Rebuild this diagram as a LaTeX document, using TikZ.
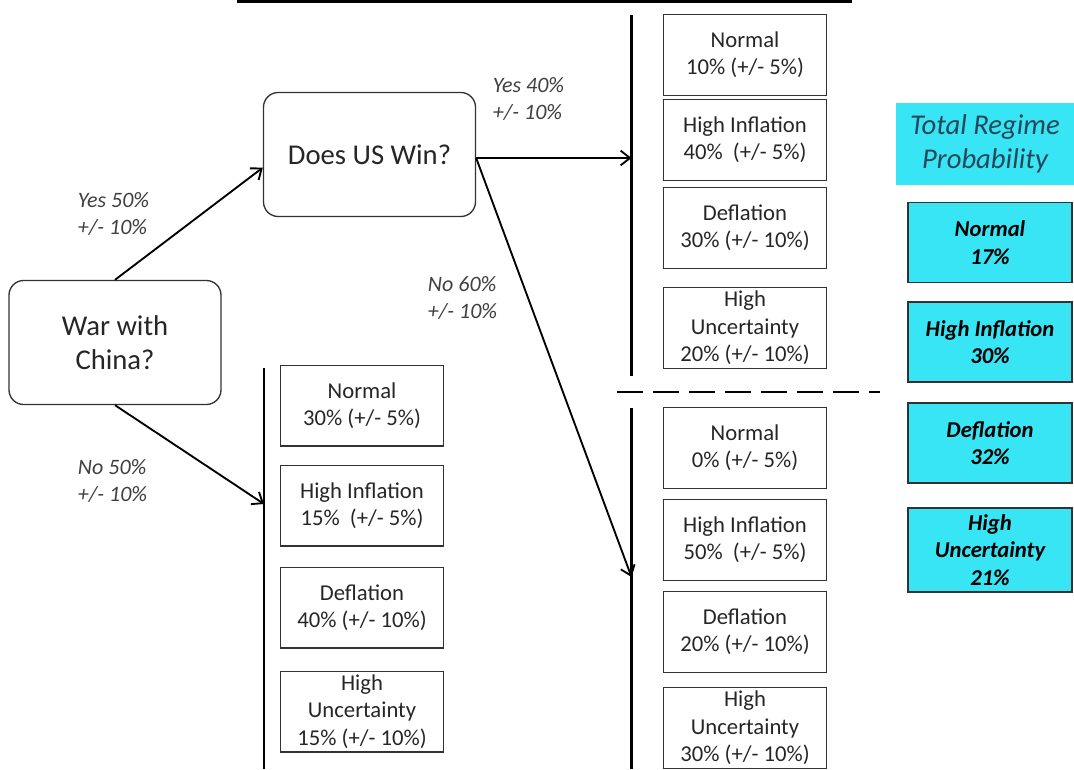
\documentclass[tikz,border=0pt]{standalone}
\usepackage{fontspec}
\setmainfont{Carlito}
\usetikzlibrary{arrows.meta}

\definecolor{regimecyan}{RGB}{55,229,244}
\definecolor{boxgrey}{RGB}{50,50,50}
\definecolor{headblue}{RGB}{40,70,90}

\begin{document}
\begin{tikzpicture}[x=0.75pt,y=-0.75pt,>={Straight Barb[length=7pt,width=11pt]},
                    line width=1.4pt,
    question/.style={draw=boxgrey,line width=1pt,rounded corners=11pt,
                     minimum width=159pt,minimum height=93pt,align=center,
                     font=\fontsize{21.5}{25}\selectfont,text=black!85},
    regime/.style={draw=boxgrey,line width=1pt,minimum width=122pt,
                   minimum height=60.5pt,inner sep=0pt,align=center,
                   font=\fontsize{17}{20.5}\selectfont,text=black!85},
    total/.style={fill=regimecyan,draw=boxgrey,line width=0.8pt,
                  minimum width=123pt,minimum height=60pt,inner sep=0pt,
                  align=center,font=\fontsize{17}{20.5}\selectfont\bfseries\itshape},
    prob/.style={anchor=west,align=left,inner sep=0pt,
                 font=\fontsize{16.5}{20.5}\selectfont\itshape,text=black!75},
    axis/.style={line width=2.2pt}]

  \useasboundingbox (0,0) rectangle (1074,769);

  % decision nodes
  \node[question] (W) at (115,342.5) {War with\\China?};
  \node[question] (U) at (369.5,154.5) {Does US Win?};

  % no war
  \node[regime] (L1) at (362,405.5) {Normal\\30\% (+/- 5\%)};
  \node[regime] (L2) at (362,505.5) {High Inflation\\15\%\ \ (+/- 5\%)};
  \node[regime] (L3) at (362,607.5) {Deflation\\40\% (+/- 10\%)};
  \node[regime] (L4) at (362,711.5) {High\\Uncertainty\\15\% (+/- 10\%)};

  % US wins
  \node[regime] (Y1) at (745,55)  {Normal\\10\% (+/- 5\%)};
  \node[regime] (Y2) at (745,140) {High Inflation\\40\%\ \ (+/- 5\%)};
  \node[regime] (Y3) at (745,228) {Deflation\\30\% (+/- 10\%)};
  \node[regime] (Y4) at (745,328) {High\\Uncertainty\\20\% (+/- 10\%)};

  % US loses
  \node[regime] (N1) at (745,448) {Normal\\0\% (+/- 5\%)};
  \node[regime] (N2) at (745,540) {High Inflation\\50\%\ \ (+/- 5\%)};
  \node[regime] (N3) at (745,632) {Deflation\\20\% (+/- 10\%)};
  \node[regime] (N4) at (745,728) {High\\Uncertainty\\30\% (+/- 10\%)};

  % totals
  \node[fill=regimecyan,minimum width=133.5pt,minimum height=61.5pt,inner sep=0pt,
        align=center,text=headblue,font=\fontsize{21.5}{25}\selectfont\itshape]
        (T) at (985,144) {Total Regime\\Probability};
  \node[total] (C1) at (990,242.5) {Normal\\17\%};
  \node[total] (C2) at (990,342) {High Inflation\\30\%};
  \node[total] (C3) at (990,443) {Deflation\\32\%};
  \node[total,minimum height=63pt] (C4) at (990,550) {High\\Uncertainty\\21\%};

  % branch probabilities
  \node[prob] (pW1) at (77,214) {Yes 50\%\\+/- 10\%};
  \node[prob] (pW2) at (77,481) {No 50\%\\+/- 10\%};
  \node[prob] (pU1) at (492,99) {Yes 40\%\\+/- 10\%};
  \node[prob] (pU2) at (427,298) {No 60\%\\+/- 10\%};

  % bars
  \coordinate (Ltop) at (264,368);   \coordinate (Lbot) at (264,769);
  \coordinate (Ytop) at (631.5,15);  \coordinate (Ybot) at (631.5,376);
  \coordinate (Ntop) at (631.5,408); \coordinate (Nbot) at (631.5,769);
  \coordinate (Lhit) at (264,504);
  \coordinate (Yhit) at (631.5,158);
  \coordinate (Nhit) at (631.5,577);

  \draw[axis] (237,1.5) -- (852,1.5);
  \draw[axis] (Ltop) -- (Lbot);
  \draw[axis] (Ytop) -- (Ybot);
  \draw[axis] (Ntop) -- (Nbot);
  \draw[axis,dash pattern=on 19.5pt off 7.5pt] (617,392) -- (880,392);

  \draw[->] (W.north) -- (U.-173);
  \draw[->] (W.south) -- (Lhit);
  \draw[->] (U.east |- Yhit) -- (Yhit);
  \draw[->] (U.east |- Yhit) -- (Nhit);
\end{tikzpicture}
\end{document}
